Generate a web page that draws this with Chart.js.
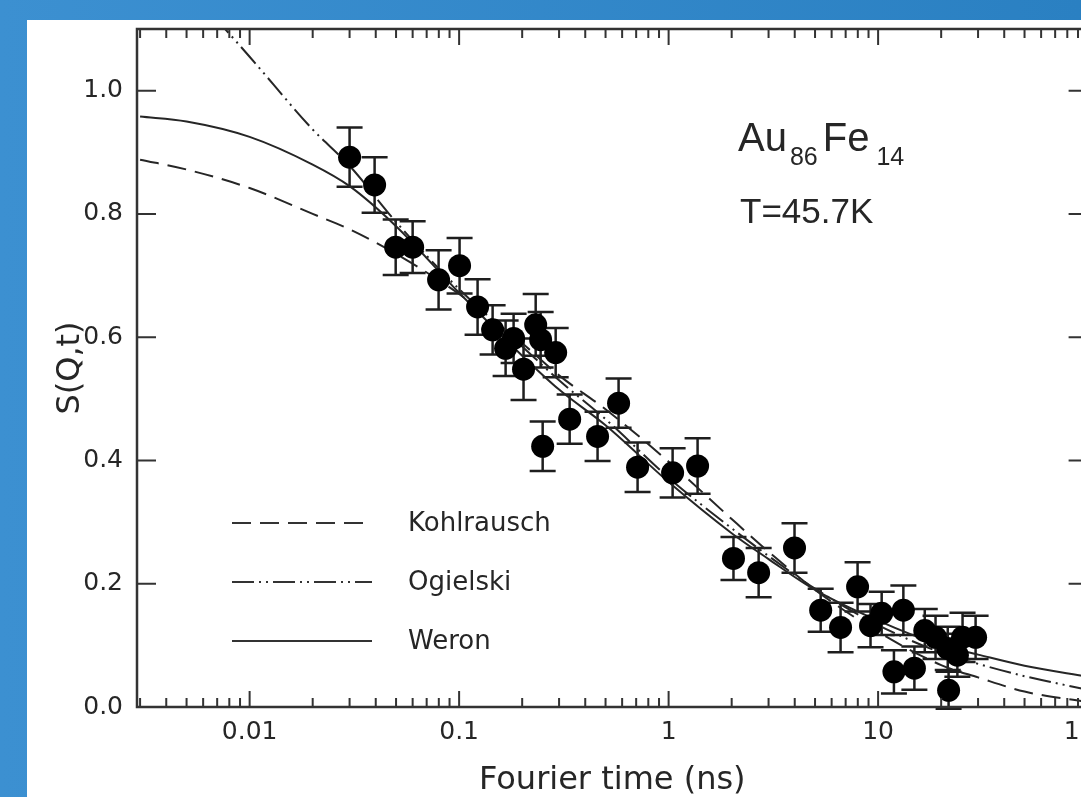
<!DOCTYPE html>
<html>
<head>
<meta charset="utf-8">
<title>S(Q,t) Au86Fe14</title>
<script src="https://cdn.jsdelivr.net/npm/chart.js@4.4.1/dist/chart.umd.min.js"></script>
<style>
  html, body { margin: 0; padding: 0; width: 1081px; height: 797px; overflow: hidden; }
  body { background: linear-gradient(to right, #3c90d1, #2a80c2); position: relative; }
  #panel { position: absolute; left: 27px; top: 20px; width: 1100px; height: 800px; background: #fff; }
  #wrap { position: absolute; left: 0; top: 0; width: 1100px; height: 797px; }
</style>
</head>
<body>
<div id="panel"></div>
<div id="wrap"><canvas id="myChart" width="1100" height="797"></canvas></div>
<script>
// Points mesurés : temps de Fourier (ns), S(Q,t) et barres d'erreur
const tPoints = [0.030, 0.0395, 0.0498, 0.060, 0.0798, 0.1005, 0.1225, 0.1445, 0.1667, 0.182,
                 0.203, 0.232, 0.245, 0.289, 0.2505, 0.337, 0.458, 0.577, 0.711, 1.045,
                 1.375, 2.04, 2.69, 3.99, 5.32, 6.62, 7.98, 9.2, 10.4, 11.9,
                 13.2, 14.9, 16.7, 18.8, 21.5, 21.7, 23.9, 25.3, 29.2];
const sPoints = [0.892, 0.847, 0.746, 0.746, 0.693, 0.716, 0.649, 0.612, 0.582, 0.598,
                 0.548, 0.620, 0.596, 0.575, 0.423, 0.467, 0.439, 0.493, 0.389, 0.380,
                 0.391, 0.241, 0.218, 0.258, 0.157, 0.129, 0.195, 0.132, 0.152, 0.057,
                 0.157, 0.063, 0.124, 0.113, 0.095, 0.027, 0.084, 0.113, 0.113];
const sErr = [0.048, 0.045, 0.045, 0.042, 0.048, 0.045, 0.045, 0.040, 0.045, 0.040,
              0.050, 0.050, 0.045, 0.040, 0.040, 0.040, 0.040, 0.040, 0.040, 0.040,
              0.045, 0.035, 0.040, 0.040, 0.035, 0.040, 0.040, 0.035, 0.035, 0.035,
              0.040, 0.035, 0.035, 0.035, 0.035, 0.030, 0.035, 0.040, 0.035];

// Courbes d'ajustement
const tCurve     = [0.003, 0.005, 0.01, 0.02, 0.03, 0.05, 0.1, 0.2, 0.3, 0.5, 1, 2, 3, 5, 10, 20, 30, 50, 100];
const kohlrausch = [0.888, 0.872, 0.842, 0.800, 0.775, 0.735, 0.670, 0.590, 0.538, 0.483, 0.398, 0.305, 0.252, 0.190, 0.122, 0.068, 0.048, 0.025, 0.008];
const ogielski   = [null, 1.170, 1.055, 0.937, 0.878, 0.787, 0.678, 0.585, 0.530, 0.467, 0.372, 0.290, 0.245, 0.192, 0.133, 0.088, 0.070, 0.050, 0.028];
const weron      = [0.958, 0.950, 0.925, 0.880, 0.845, 0.780, 0.672, 0.570, 0.515, 0.457, 0.365, 0.282, 0.240, 0.190, 0.140, 0.100, 0.085, 0.067, 0.049];

// Graduations
const xMajor = [0.01, 0.1, 1, 10, 100];
const yTicks = [0, 0.2, 0.4, 0.6, 0.8, 1.0];

const encre = '#262626';
const policeAxe = '"DejaVu Sans", Verdana, sans-serif';
const police = '"Liberation Sans", Arial, Helvetica, sans-serif';
const tirets = {
    Kohlrausch: [19, 9],
    Ogielski: [22, 5, 2, 5, 2, 5],
    Weron: []
};

const toXY = (xs, ys) => xs.map((x, i) => ({ x: x, y: ys[i] })).filter(p => p.y !== null);

// Cadre, graduations internes, barres d'erreur, légende et annotations
const cadrePlugin = {
    id: 'cadre',
    beforeDatasetsDraw(chart) {
        const ctx = chart.ctx;
        const xs = chart.scales.x, ys = chart.scales.y;
        ctx.save();
        ctx.strokeStyle = '#1e1e1e';
        ctx.lineWidth = 2.5;
        tPoints.forEach((t, i) => {
            const px = xs.getPixelForValue(t);
            const y1 = ys.getPixelForValue(sPoints[i] + sErr[i]);
            const y2 = ys.getPixelForValue(sPoints[i] - sErr[i]);
            ctx.beginPath();
            ctx.moveTo(px, y1); ctx.lineTo(px, y2);
            ctx.moveTo(px - 13, y1); ctx.lineTo(px + 13, y1);
            ctx.moveTo(px - 13, y2); ctx.lineTo(px + 13, y2);
            ctx.stroke();
        });
        ctx.restore();
    },
    afterDraw(chart) {
        const ctx = chart.ctx;
        const a = chart.chartArea;
        const xs = chart.scales.x, ys = chart.scales.y;
        ctx.save();
        ctx.strokeStyle = '#333';
        ctx.lineWidth = 2.5;
        ctx.strokeRect(a.left, a.top, a.right - a.left, a.bottom - a.top);

        // graduations de l'axe log (haut et bas)
        ctx.lineWidth = 2;
        for (let e = -3; e <= 2; e++) {
            for (let m = 1; m <= 9; m++) {
                const v = m * Math.pow(10, e);
                if (v < xs.min * 0.999 || v > xs.max * 1.001) continue;
                const px = xs.getPixelForValue(v);
                const len = m === 1 ? 16 : 9;
                ctx.beginPath();
                ctx.moveTo(px, a.bottom); ctx.lineTo(px, a.bottom - len);
                ctx.moveTo(px, a.top); ctx.lineTo(px, a.top + len);
                ctx.stroke();
            }
        }
        yTicks.forEach(v => {
            const py = ys.getPixelForValue(v);
            ctx.beginPath();
            ctx.moveTo(a.left, py); ctx.lineTo(a.left + 19, py);
            ctx.moveTo(a.right, py); ctx.lineTo(a.right - 19, py);
            ctx.stroke();
        });

        // légende
        const noms = ['Kohlrausch', 'Ogielski', 'Weron'];
        ctx.fillStyle = encre;
        ctx.font = '26px ' + policeAxe;
        ctx.textBaseline = 'middle';
        noms.forEach((nom, i) => {
            const ly = a.top + 494 + i * 59;
            ctx.setLineDash(tirets[nom]);
            ctx.beginPath();
            ctx.moveTo(a.left + 95, ly);
            ctx.lineTo(a.left + 235, ly);
            ctx.stroke();
            ctx.setLineDash([]);
            ctx.fillText(nom, a.left + 271, ly + 1);
        });

        // annotations
        ctx.textBaseline = 'alphabetic';
        let x = a.left + 601;
        const yb = a.top + 122;
        ctx.font = '40px ' + police;
        ctx.fillText('Au', x, yb); x += ctx.measureText('Au').width + 3;
        ctx.font = '25px ' + police;
        ctx.fillText('86', x, yb + 14); x += ctx.measureText('86').width + 5;
        ctx.font = '40px ' + police;
        ctx.fillText('Fe', x, yb); x += ctx.measureText('Fe').width + 7;
        ctx.font = '25px ' + police;
        ctx.fillText('14', x, yb + 14);
        ctx.font = '35px ' + police;
        ctx.fillText('T=45.7K', a.left + 603, a.top + 194);
        ctx.restore();
    }
};

const ctx = document.getElementById('myChart').getContext('2d');

const courbe = (nom, ys) => ({
    label: nom,
    data: toXY(tCurve, ys),
    showLine: true,
    borderColor: encre,
    borderWidth: 2,
    borderDash: tirets[nom],
    pointRadius: 0,
    cubicInterpolationMode: 'monotone',
    order: 1
});

const myChart = new Chart(ctx, {
    type: 'scatter',
    data: {
        datasets: [
            {
                label: 'Mesures',
                data: toXY(tPoints, sPoints),
                backgroundColor: '#000',
                borderWidth: 0,
                pointRadius: 11.5,
                order: 0
            },
            courbe('Kohlrausch', kohlrausch),
            courbe('Ogielski', ogielski),
            courbe('Weron', weron)
        ]
    },
    options: {
        responsive: false,
        animation: false,
        layout: { padding: { left: 0, top: 26, right: 12.4, bottom: 0 } },
        plugins: {
            legend: { display: false },
            tooltip: { enabled: false }
        },
        scales: {
            x: {
                type: 'logarithmic',
                min: 0.0029,
                max: 100,
                afterBuildTicks: s => { s.ticks = xMajor.map(v => ({ value: v })); },
                afterFit: s => { s.height = 90; s.paddingLeft = 0; s.paddingRight = 0; },
                grid: { display: false, drawTicks: false },
                border: { display: false },
                ticks: {
                    autoSkip: false,
                    maxRotation: 0,
                    padding: 10,
                    color: encre,
                    font: { family: policeAxe, size: 25 },
                    callback: v => String(v)
                },
                title: {
                    display: true,
                    text: 'Fourier time (ns)',
                    color: encre,
                    font: { family: policeAxe, size: 32, lineHeight: 1 },
                    padding: 0
                }
            },
            y: {
                min: 0,
                max: 1.1,
                afterBuildTicks: s => { s.ticks = yTicks.map(v => ({ value: v })); },
                afterFit: s => { s.width = 137; },
                grid: { display: false, drawTicks: false },
                border: { display: false },
                ticks: {
                    padding: 14,
                    color: encre,
                    font: { family: policeAxe, size: 25 },
                    callback: v => v.toFixed(1)
                },
                title: {
                    display: true,
                    text: 'S(Q,t)',
                    color: encre,
                    font: { family: policeAxe, size: 32, lineHeight: 1 },
                    padding: { top: 55 }
                }
            }
        }
    },
    plugins: [cadrePlugin]
});
</script>
</body>
</html>
